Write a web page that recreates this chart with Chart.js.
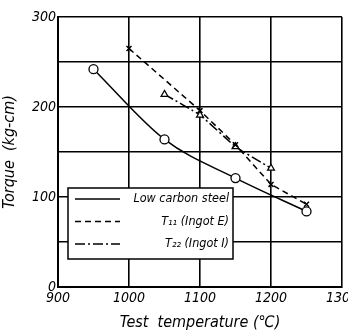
<!DOCTYPE html>
<html>
<head>
<meta charset="utf-8">
<script src="https://cdn.jsdelivr.net/npm/chart.js@4/dist/chart.umd.min.js"></script>
<style>
  html, body { margin: 0; padding: 0; background: #fff; }
  #wrap { width: 348px; height: 336px; position: relative; }
</style>
</head>
<body>
<div id="wrap"><canvas id="torqueChart"></canvas></div>
<script>
// Data
const lowCarbonTemps = [950, 1050, 1150, 1250];
const lowCarbonTorque = [242, 164, 121, 84];
const ingotETemps = [1000, 1100, 1150, 1200, 1250];
const ingotETorque = [265, 196, 158, 114, 92];
const ingotITemps = [1050, 1100, 1150, 1200];
const ingotITorque = [214, 191, 156, 132];
const seriesLabels = ['Low carbon steel', 'T\u2081\u2081 (Ingot E)', 'T\u2082\u2082 (Ingot I)'];
const xTicks = [900, 1000, 1100, 1200, 1300];
const yLabelTicks = [0, 100, 200, 300];

const italicFont = "'DejaVu Sans Condensed', 'Liberation Sans Narrow', sans-serif";

function toPoints(xs, ys) {
    return xs.map((x, i) => ({ x: x, y: ys[i] }));
}

// Legend box drawn inside the plot area, lower left
const insideLegend = {
    id: 'insideLegend',
    afterDraw(chart) {
        const ctx = chart.ctx;
        const area = chart.chartArea;
        const left = area.left + 10;
        const top = area.bottom - 99;
        const w = 165, h = 71;
        ctx.save();
        ctx.fillStyle = '#fff';
        ctx.fillRect(left, top, w, h);
        ctx.strokeStyle = '#000';
        ctx.lineWidth = 1.5;
        ctx.strokeRect(left, top, w, h);
        ctx.font = 'italic 12.5px ' + italicFont;
        ctx.textAlign = 'right';
        ctx.textBaseline = 'middle';
        chart.data.datasets.forEach((ds, i) => {
            const y = top + 11 + i * 22.5;
            ctx.setLineDash(ds.borderDash || []);
            ctx.lineWidth = 1.6;
            ctx.beginPath();
            ctx.moveTo(left + 7, y);
            ctx.lineTo(left + 52, y);
            ctx.stroke();
            ctx.setLineDash([]);
            ctx.fillStyle = '#000';
            ctx.fillText(ds.label, left + w - 4, y);
        });
        ctx.restore();
    }
};

const ctx = document.getElementById('torqueChart').getContext('2d');
new Chart(ctx, {
    type: 'line',
    data: {
        datasets: [
            {
                label: seriesLabels[0],
                data: toPoints(lowCarbonTemps, lowCarbonTorque),
                borderColor: '#000',
                borderWidth: 1.5,
                cubicInterpolationMode: 'monotone',
                pointStyle: 'circle',
                pointRadius: 4.5,
                pointBackgroundColor: '#fff',
                pointBorderColor: '#000',
                pointBorderWidth: 1.3
            },
            {
                label: seriesLabels[1],
                data: toPoints(ingotETemps, ingotETorque),
                borderColor: '#000',
                borderWidth: 1.5,
                borderDash: [6, 4],
                tension: 0,
                pointStyle: 'crossRot',
                pointRadius: 3.5,
                pointBorderColor: '#000',
                pointBorderWidth: 1.5
            },
            {
                label: seriesLabels[2],
                data: toPoints(ingotITemps, ingotITorque),
                borderColor: '#000',
                borderWidth: 1.5,
                borderDash: [10, 3, 2, 3],
                tension: 0.15,
                pointStyle: 'triangle',
                pointRadius: 4,
                pointBackgroundColor: '#fff',
                pointBorderColor: '#000',
                pointBorderWidth: 1.2
            }
        ]
    },
    options: {
        responsive: true,
        maintainAspectRatio: false,
        animation: false,
        layout: { padding: { top: 17, right: 6, left: 0, bottom: 0 } },
        plugins: {
            legend: { display: false },
            tooltip: { enabled: false }
        },
        scales: {
            x: {
                type: 'linear',
                min: xTicks[0],
                max: xTicks[xTicks.length - 1],
                afterBuildTicks: s => { s.ticks = xTicks.map(v => ({ value: v })); },
                afterFit: s => { s.height = 49; s.paddingLeft = 0; s.paddingRight = 0; },
                grid: { color: '#000', lineWidth: 1.6, drawTicks: false },
                border: { color: '#000', width: 2 },
                ticks: {
                    color: '#000',
                    padding: 3,
                    maxRotation: 0,
                    font: { family: italicFont, style: 'italic', size: 14 },
                    callback: v => String(v)
                },
                title: {
                    display: true,
                    text: 'Test  temperature (\u2103)',
                    color: '#000',
                    padding: { top: 0, bottom: 4 },
                    font: { family: italicFont, style: 'italic', size: 16 }
                }
            },
            y: {
                min: 0,
                max: 300,
                afterFit: s => { s.width = 58; },
                grid: { color: '#000', lineWidth: 1.6, drawTicks: false },
                border: { color: '#000', width: 2 },
                ticks: {
                    stepSize: 50,
                    color: '#000',
                    padding: 2,
                    font: { family: italicFont, style: 'italic', size: 14 },
                    callback: v => yLabelTicks.includes(v) ? String(v) : ''
                },
                title: {
                    display: true,
                    text: 'Torque  (kg-cm)',
                    color: '#000',
                    padding: { top: 0, bottom: 2 },
                    font: { family: italicFont, style: 'italic', size: 16 }
                }
            }
        }
    },
    plugins: [insideLegend]
});
</script>
</body>
</html>
